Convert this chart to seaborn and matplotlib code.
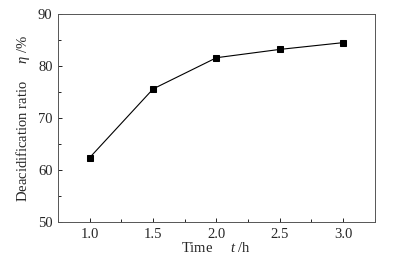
import matplotlib
matplotlib.use("Agg")
import matplotlib.pyplot as plt
from matplotlib.ticker import MultipleLocator
import pandas as pd
import seaborn as sns

TIME_H = [1.0, 1.5, 2.0, 2.5, 3.0]
DEACID_RATIO = [62.4, 75.6, 81.6, 83.2, 84.5]

sns.set_theme(style="ticks")
plt.rcParams["font.family"] = ["Liberation Serif", "DejaVu Serif"]
plt.rcParams["mathtext.fontset"] = "custom"
plt.rcParams["mathtext.rm"] = "Liberation Serif"
plt.rcParams["mathtext.it"] = "Liberation Serif:italic"

df = pd.DataFrame({"time": TIME_H, "ratio": DEACID_RATIO})

fig = plt.figure(figsize=(3.95, 2.6), dpi=100)
ax = fig.add_axes([0.147, 0.146, 0.802, 0.8])
sns.lineplot(data=df, x="time", y="ratio", marker="s", color="black",
             linewidth=0.8, markersize=3.8, markeredgecolor="black", ax=ax)

ax.set_xlim(0.75, 3.25)
ax.set_ylim(50, 90)
ax.xaxis.set_major_locator(MultipleLocator(0.5))
ax.xaxis.set_minor_locator(MultipleLocator(0.25))
ax.yaxis.set_major_locator(MultipleLocator(10))
ax.yaxis.set_minor_locator(MultipleLocator(5))
ax.set_xticks([1.0, 1.5, 2.0, 2.5, 3.0])
ax.set_xticklabels(["1.0", "1.5", "2.0", "2.5", "3.0"])
ax.tick_params(which="both", direction="in", labelsize=10.5, color="black")
ax.tick_params(which="major", length=3, width=0.6, pad=4)
ax.tick_params(which="minor", length=2, width=0.6)
for s in ax.spines.values():
    s.set_linewidth(0.7)
    s.set_color("#555555")

ax.set_xlabel("Time     $\\it{t}$ /h", fontsize=10.5, labelpad=0)
ax.set_ylabel("Deacidification ratio     $\\it{\\eta}$ /%", fontsize=10.5, labelpad=4)

fig.savefig("out.png", dpi=100)
